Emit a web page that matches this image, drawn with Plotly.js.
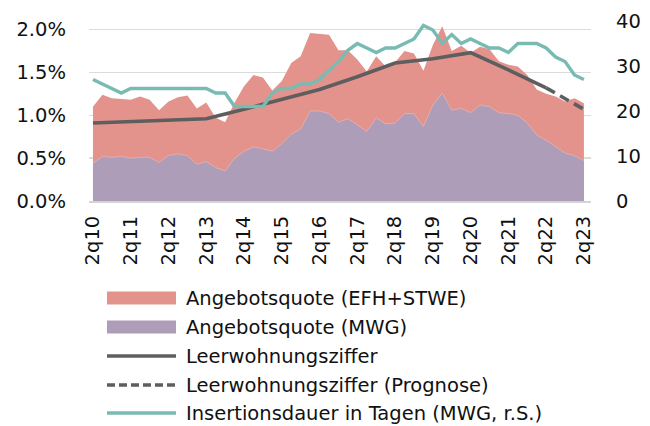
<!DOCTYPE html>
<html>
<head>
<meta charset="utf-8">
<script src="https://cdn.plot.ly/plotly-3.0.1.min.js"></script>
<style>
  html, body { margin: 0; padding: 0; background: #ffffff; }
  #chart { width: 650px; height: 426px; }
</style>
</head>
<body>
<div id="chart"></div>
<script>
// ---------- data ----------
const quarters = [
  "2q10","3q10","4q10",
  "1q11","2q11","3q11","4q11",
  "1q12","2q12","3q12","4q12",
  "1q13","2q13","3q13","4q13",
  "1q14","2q14","3q14","4q14",
  "1q15","2q15","3q15","4q15",
  "1q16","2q16","3q16","4q16",
  "1q17","2q17","3q17","4q17",
  "1q18","2q18","3q18","4q18",
  "1q19","2q19","3q19","4q19",
  "1q20","2q20","3q20","4q20",
  "1q21","2q21","3q21","4q21",
  "1q22","2q22","3q22","4q22",
  "1q23","2q23"
];

const tickLabels = ["2q10","2q11","2q12","2q13","2q14","2q15","2q16","2q17","2q18","2q19","2q20","2q21","2q22","2q23"];

// Angebotsquote EFH+STWE (%)
const angebotEFH = [
  1.10, 1.24, 1.20, 1.19, 1.18, 1.22, 1.18, 1.06, 1.16, 1.21,
  1.23, 1.08, 1.15, 0.97, 0.92, 1.15, 1.34, 1.47, 1.44, 1.29,
  1.40, 1.61, 1.69, 1.96, 1.95, 1.94, 1.76, 1.76, 1.65, 1.51,
  1.69, 1.57, 1.62, 1.75, 1.72, 1.52, 1.82, 2.04, 1.75, 1.81,
  1.73, 1.80, 1.77, 1.63, 1.59, 1.57, 1.47, 1.30, 1.25, 1.22,
  1.16, 1.20, 1.14
];

// Angebotsquote MWG (%)
const angebotMWG = [
  0.44, 0.52, 0.51, 0.52, 0.50, 0.51, 0.51, 0.45, 0.53, 0.55,
  0.53, 0.43, 0.46, 0.39, 0.35, 0.50, 0.58, 0.63, 0.61, 0.58,
  0.67, 0.78, 0.84, 1.05, 1.05, 1.02, 0.92, 0.96, 0.89, 0.81,
  0.97, 0.90, 0.91, 1.02, 1.02, 0.87, 1.12, 1.26, 1.06, 1.08,
  1.03, 1.12, 1.10, 1.03, 1.02, 1.00, 0.91, 0.77, 0.71, 0.64,
  0.56, 0.53, 0.47
];

// Insertionsdauer in Tagen (MWG, right axis)
const insertionsdauer = [
  27, 26, 25, 24, 25, 25, 25, 25, 25, 25,
  25, 25, 25, 24, 24, 21, 21, 21, 21, 24,
  25, 25, 26, 26, 27, 29, 31, 33.5, 35, 34,
  33, 34, 34, 35, 36, 39, 38, 35, 37, 35,
  36, 35, 34, 34, 33, 35, 35, 35, 34, 32,
  31, 28, 27
];

// Leerwohnungsziffer (%), annual
const lwzQuarters = ["2q10","2q11","2q12","2q13","2q14","2q15","2q16","2q17","2q18","2q19","2q20","2q21","2q22"];
const lwzValues   = [0.91, 0.925, 0.94, 0.96, 1.07, 1.18, 1.30, 1.45, 1.61, 1.66, 1.73, 1.53, 1.32];
const lwzPrognoseQuarters = ["2q22","2q23"];
const lwzPrognoseValues   = [1.32, 1.07];

const seriesNames = [
  "Angebotsquote (EFH+STWE)",
  "Angebotsquote (MWG)",
  "Leerwohnungsziffer",
  "Leerwohnungsziffer (Prognose)",
  "Insertionsdauer in Tagen (MWG, r.S.)"
];

const yTickVals = [0, 0.5, 1.0, 1.5, 2.0];
const yTickText = ["0.0%", "0.5%", "1.0%", "1.5%", "2.0%"];
const y2TickVals = [0, 10, 20, 30, 40];
const y2TickText = ["0", "10", "20", "30", "40"];

// ---------- styles ----------
const C_RED = "#E3938C";
const C_PURPLE = "#AE9DB9";
const C_DARK = "#5E5E5E";
const C_TEAL = "#78BBB2";
const FONT = "DejaVu Sans, Verdana, sans-serif";
const FS = 19.5;
const TXT = "#111111";

const traces = [
  {
    x: quarters, y: angebotEFH, name: seriesNames[0], type: "scatter", mode: "lines",
    fill: "tozeroy", fillcolor: C_RED, line: {width: 0, color: C_RED}, showlegend: false, hoverinfo: "skip"
  },
  {
    x: quarters, y: angebotMWG, name: seriesNames[1], type: "scatter", mode: "lines",
    fill: "tozeroy", fillcolor: C_PURPLE, line: {width: 0.8, color: "#E6B3B0"}, showlegend: false, hoverinfo: "skip"
  },
  {
    x: lwzQuarters, y: lwzValues, name: seriesNames[2], type: "scatter", mode: "lines",
    line: {width: 3.6, color: C_DARK}, showlegend: false, hoverinfo: "skip"
  },
  {
    x: lwzPrognoseQuarters, y: lwzPrognoseValues, name: seriesNames[3], type: "scatter", mode: "lines",
    line: {width: 3.6, color: C_DARK, dash: "10px,6px"}, showlegend: false, hoverinfo: "skip"
  },
  {
    x: quarters, y: insertionsdauer, name: seriesNames[4], type: "scatter", mode: "lines",
    yaxis: "y2", line: {width: 3.4, color: C_TEAL}, showlegend: false, hoverinfo: "skip"
  }
];

// ---------- manual legend (paper coords from pixel positions) ----------
const W = 650, H = 426;
const M = {l: 89, r: 59, t: 21, b: 225, pad: 0};
const PW = W - M.l - M.r, PH = H - M.t - M.b;
const px = v => (v - M.l) / PW;
const py = v => (H - M.b - v) / PH;

const rowY = [298, 327, 356, 385, 413];
const swX0 = 107, swX1 = 176, txtX = 184;

const shapes = [
  {type: "rect", xref: "paper", yref: "paper", x0: px(swX0), x1: px(swX1), y0: py(rowY[0] + 6.5), y1: py(rowY[0] - 6.5), fillcolor: C_RED, line: {width: 0}},
  {type: "rect", xref: "paper", yref: "paper", x0: px(swX0), x1: px(swX1), y0: py(rowY[1] + 6.5), y1: py(rowY[1] - 6.5), fillcolor: C_PURPLE, line: {width: 0}},
  {type: "line", xref: "paper", yref: "paper", x0: px(swX0), x1: px(swX1), y0: py(rowY[2]), y1: py(rowY[2]), line: {width: 3.6, color: C_DARK}},
  {type: "line", xref: "paper", yref: "paper", x0: px(swX0), x1: px(swX1), y0: py(rowY[3]), y1: py(rowY[3]), line: {width: 3.6, color: C_DARK, dash: "8px,4px"}},
  {type: "line", xref: "paper", yref: "paper", x0: px(swX0), x1: px(swX1), y0: py(rowY[4]), y1: py(rowY[4]), line: {width: 3.4, color: C_TEAL}}
];

const annotations = seriesNames.map((name, k) => ({
  xref: "paper", yref: "paper", x: px(txtX), y: py(rowY[k]),
  xanchor: "left", yanchor: "middle", showarrow: false, text: name,
  font: {family: FONT, size: FS, color: TXT}
}));

const layout = {
  width: W, height: H,
  margin: M,
  paper_bgcolor: "#ffffff", plot_bgcolor: "#ffffff",
  font: {family: FONT, size: FS, color: TXT},
  showlegend: false,
  xaxis: {
    type: "category",
    categoryorder: "array", categoryarray: quarters,
    range: [-0.42, 52.75],
    tickmode: "array", tickvals: tickLabels, ticktext: tickLabels,
    tickangle: -90,
    showgrid: false, zeroline: false,
    showline: true, linecolor: "#d4d4d4", linewidth: 2,
    ticks: "", ticklabelstandoff: 5,
    tickfont: {family: FONT, size: FS, color: TXT}
  },
  yaxis: {
    range: [0, 2.1],
    tickmode: "array", tickvals: yTickVals, ticktext: yTickText,
    showgrid: true, gridcolor: "#dcdcdc", gridwidth: 1.5,
    zeroline: false, showline: false, ticks: "",
    ticklabelstandoff: 22,
    tickfont: {family: FONT, size: FS, color: TXT}
  },
  yaxis2: {
    overlaying: "y", side: "right",
    range: [0, 40],
    tickmode: "array", tickvals: y2TickVals, ticktext: y2TickText,
    showgrid: false, zeroline: false, showline: false, ticks: "",
    ticklabelstandoff: 24,
    tickfont: {family: FONT, size: FS, color: TXT}
  },
  shapes: shapes,
  annotations: annotations
};

Plotly.newPlot("chart", traces, layout, {staticPlot: true, displayModeBar: false});
</script>
</body>
</html>
